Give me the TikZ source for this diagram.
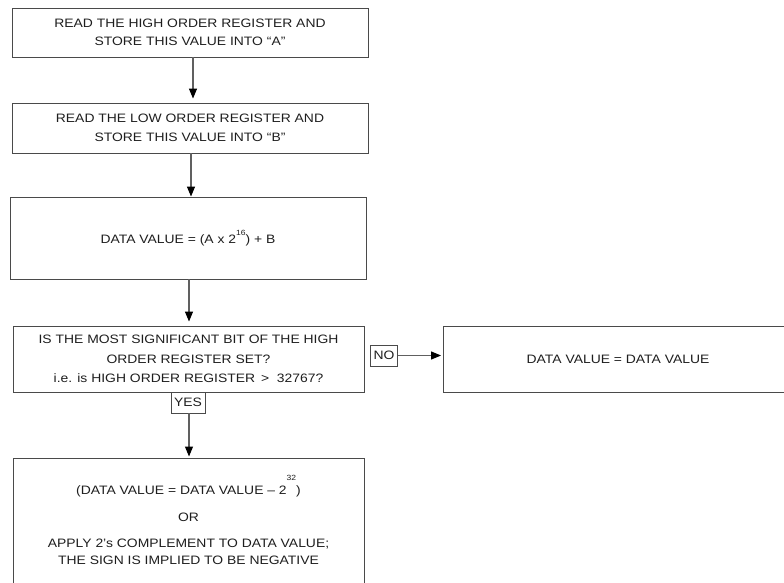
\documentclass[tikz,border=0pt]{standalone}
\usepackage{fontspec}
\setmainfont{Liberation Sans}[FakeStretch=1.14]
\usetikzlibrary{arrows.meta}
\definecolor{ln}{HTML}{4A4A4A}
\definecolor{ar}{HTML}{606060}
\definecolor{tx}{HTML}{1E1E1E}
\newcommand{\supsc}[2]{\raisebox{#1}{\fontsize{7.5}{7.5}\selectfont #2}}
\begin{document}
\begin{tikzpicture}[x=1pt,y=-1pt,
  box/.style={draw=ln, line width=0.9pt, inner sep=0pt, align=center, text=tx,
    font=\fontsize{12.2}{18.5}\selectfont},
  txt/.style={inner sep=0pt, align=center, text=tx, font=\fontsize{12.2}{17}\selectfont},
  lbl/.style={draw=ln, line width=0.9pt, inner sep=0pt, text=tx, font=\fontsize{12.2}{14}\selectfont},
  arr/.style={draw=ar, line width=1.1pt, -{Triangle[width=8pt,length=10pt,color=black]}}]
\useasboundingbox (0,0) rectangle (784,583);
\clip (0,0) rectangle (784,583);

\node[box, minimum width=356, minimum height=49] (b1) at (190,32.5)
  {READ THE HIGH ORDER REGISTER AND\\STORE THIS VALUE INTO “A”};
\node[box, minimum width=356, minimum height=50] (b2) at (190,128)
  {READ THE LOW ORDER REGISTER AND\\STORE THIS VALUE INTO “B”};
\node[box, minimum width=356, minimum height=82] (b3) at (188,238)
  {DATA VALUE = (A x 2\supsc{8pt}{16}) + B};
\node[box, minimum width=351, minimum height=66, font=\fontsize{12.2}{19.5}\selectfont] (b4) at (188.5,359)
  {IS THE MOST SIGNIFICANT BIT OF THE HIGH\\ORDER REGISTER SET?\\i.e. is HIGH ORDER REGISTER \,>\ \ 32767?};
\node[lbl, minimum width=27.5, minimum height=21] (no) at (384,355.5) {NO};
\node[box, minimum width=350, minimum height=66] (b6) at (618,359) {DATA VALUE = DATA VALUE};
\node[lbl, minimum width=34, minimum height=21] (yes) at (188,402.5) {YES};
\node[box, minimum width=351, minimum height=150, anchor=north] (b5) at (188.5,458) {};
\node[txt, anchor=north] (t5) at (188.5,475.5)
  {(DATA VALUE = DATA VALUE – 2\supsc{14pt}{32})\\[10pt]OR\\[9pt]APPLY 2’s COMPLEMENT TO DATA VALUE;\\THE SIGN IS IMPLIED TO BE NEGATIVE};

\draw[arr, shorten >=4pt] ([xshift=3pt]b1.south) -- ([xshift=3pt]b1.south |- b2.north);
\draw[arr] ([xshift=1pt]b2.south) -- ([xshift=1pt]b2.south |- b3.north);
\draw[arr, shorten >=4pt] ([xshift=1pt]b3.south) -- ([xshift=1pt]b3.south |- b4.north);
\draw[arr, shorten >=1.5pt] ([xshift=1pt]yes.south) -- ([xshift=1pt]yes.south |- b5.north);
\draw[arr, shorten >=1.5pt] (no.east) -- (no.east -| b6.west);
\end{tikzpicture}
\end{document}
